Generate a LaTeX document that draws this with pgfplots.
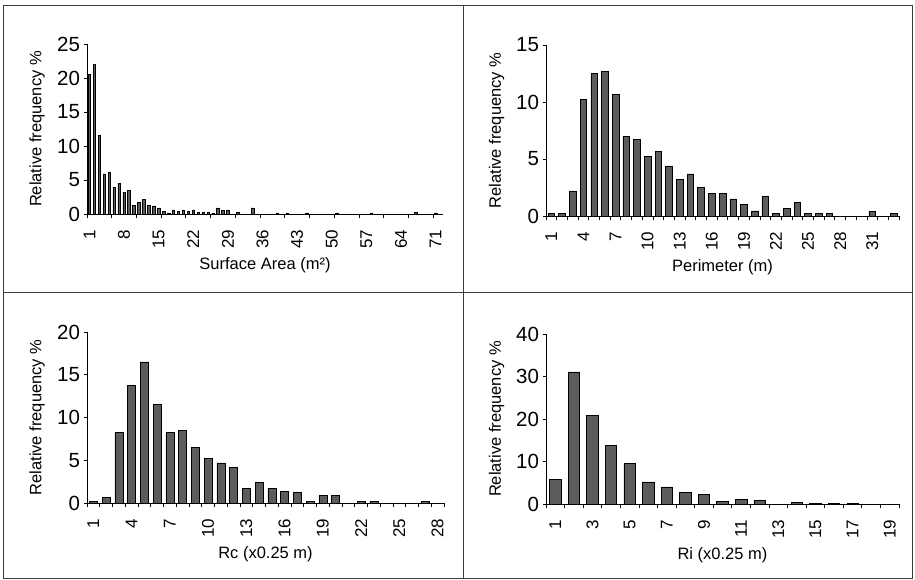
\documentclass[border=0pt]{standalone}
\usepackage{fontspec}
\setmainfont{Liberation Sans}
\usepackage{pgfplots}
\pgfplotsset{compat=1.18}

\definecolor{barfill}{RGB}{92,92,92}
\definecolor{framecol}{RGB}{60,60,60}

\pgfplotsset{
  histo/.style={
    scale only axis,
    axis lines*=left,
    axis line style={black, line width=0.8pt},
    tick align=outside,
    tick style={black, line width=0.8pt},
    major tick length=3.5pt,
    minor tick length=4.5pt,
    every major x tick/.append style={draw=none},
    ymin=0, xmin=0.5,
    ybar, bar width=0.62,
    /pgf/number format/assume math mode=true,
    yticklabel style={font=\fontsize{20.5}{24}\selectfont},
    xticklabel style={font=\fontsize{17}{20}\selectfont, rotate=90, anchor=east},
    xticklabel shift=9pt,
    every axis y label/.style={at={(axis description cs:-0.14,0.5)}, rotate=90, anchor=center,
      font=\fontsize{16.5}{20}\selectfont},
    every axis x label/.style={at={(axis description cs:0.5,-0.325)}, anchor=base,
      font=\fontsize{16.5}{20}\selectfont},
    ylabel={Relative frequency \%},
    clip=false,
  },
  histbar/.style={fill=barfill, draw=black, line width=0.6pt},
}

\begin{document}
\begin{tikzpicture}[x=1pt,y=1pt]
\path[use as bounding box] (0,0) rectangle (915,580);
\draw[framecol, line width=0.9pt] (3,2) rectangle (912,575);
\draw[framecol, line width=0.9pt] (463,2) -- (463,575);
\draw[framecol, line width=0.9pt] (3,288) -- (912,288);

% surface area
\begin{axis}[histo, at={(87pt,366pt)}, width=356pt, height=170pt,
  xmax=72.5, ymax=25, ytick={0,5,...,25}, bar width=0.5,
  xtick={1,8,...,71}, minor xtick={0.5,5.5,...,70.5},
  xlabel={Surface Area (m²)}]
\addplot[histbar] coordinates {
  (1,20.5) (2,22.0) (3,11.5) (4,5.9) (5,6.2) (6,3.9) (7,4.5) (8,3.2) (9,3.5)
  (10,1.3) (11,1.75) (12,2.2) (13,1.3) (14,1.2) (15,0.9) (16,0.35) (17,0.15)
  (18,0.6) (19,0.4) (20,0.6) (21,0.35) (22,0.6) (23,0.25) (24,0.25) (25,0.25)
  (26,0.1) (27,0.9) (28,0.5) (29,0.5) (31,0.2) (34,0.9) (39,0.15) (41,0.15)
  (45,0.15) (51,0.15) (58,0.15) (67,0.2) (71,0.15)
};
\end{axis}

% perimeter
\begin{axis}[histo, at={(546pt,364pt)}, width=353pt, height=171pt,
  xmax=33.5, ymax=15, ytick={0,5,...,15},
  xtick={1,4,...,31}, minor xtick={0.5,1.5,...,33.5},
  xlabel={Perimeter (m)}]
\addplot[histbar] coordinates {
  (1,0.2) (2,0.2) (3,2.2) (4,10.2) (5,12.5) (6,12.7) (7,10.7) (8,7.0) (9,6.7)
  (10,5.2) (11,5.7) (12,4.4) (13,3.2) (14,3.7) (15,2.5) (16,2.0) (17,2.0)
  (18,1.5) (19,1.0) (20,0.45) (21,1.7) (22,0.25) (23,0.7) (24,1.2) (25,0.2)
  (26,0.2) (27,0.2) (31,0.4) (33,0.2)
};
\end{axis}

% Rc
\begin{axis}[histo, at={(87pt,77pt)}, width=357pt, height=171pt,
  xmax=28.5, ymax=20, ytick={0,5,...,20},
  xtick={1,4,...,28}, minor xtick={0.5,1.5,...,28.5},
  xlabel={Rc (x0.25 m)}]
\addplot[histbar] coordinates {
  (1,0.2) (2,0.7) (3,8.3) (4,13.8) (5,16.5) (6,11.5) (7,8.3) (8,8.5) (9,6.5)
  (10,5.2) (11,4.7) (12,4.2) (13,1.7) (14,2.4) (15,1.7) (16,1.4) (17,1.2)
  (18,0.2) (19,0.9) (20,0.9) (22,0.2) (23,0.2) (27,0.2)
};
\end{axis}

% Ri
\begin{axis}[histo, at={(546pt,76pt)}, width=353pt, height=170pt,
  xmax=19.5, ymax=40, ytick={0,10,...,40},
  xtick={1,3,...,19}, minor xtick={0.5,1.5,...,19.5},
  xlabel={Ri (x0.25 m)}]
\addplot[histbar] coordinates {
  (1,5.8) (2,31.1) (3,20.9) (4,13.7) (5,9.5) (6,5.2) (7,4.0) (8,2.8) (9,2.3)
  (10,0.6) (11,1.1) (12,0.9) (14,0.4) (15,0.15) (16,0.15) (17,0.1)
};
\end{axis}
\end{tikzpicture}
\end{document}
